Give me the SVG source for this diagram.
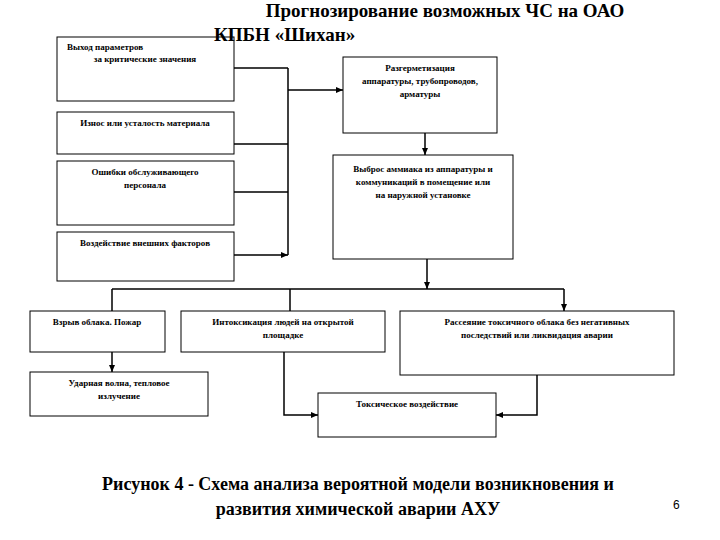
<svg xmlns="http://www.w3.org/2000/svg" width="720" height="540" viewBox="0 0 720 540">
<style>
.b{fill:#fff;stroke:#000;stroke-width:1}
.t{font-family:"Liberation Serif",serif;font-size:9px;font-weight:bold;text-anchor:middle}
.h{font-family:"Liberation Serif",serif;font-size:19px;font-weight:bold}
.c{font-family:"Liberation Serif",serif;font-size:18px;font-weight:bold;text-anchor:middle}
.l{fill:none;stroke:#000;stroke-width:1.5}
</style>
<defs><marker id="a" markerWidth="8" markerHeight="8" refX="7" refY="4" orient="auto" markerUnits="userSpaceOnUse"><path d="M0,1 L7,4 L0,7z"/></marker></defs>
<rect width="720" height="540" fill="#fff"/>
<g id="connectors">
<path class="l" d="M234,68H288M234,144H288M234,192H288M234,255H288" marker-end="url(#a)"/>
<path class="l" d="M288,68V255"/>
<path class="l" d="M288,90H343" marker-end="url(#a)"/>
<path class="l" d="M425,133V155" marker-end="url(#a)"/>
<path class="l" d="M427,259V289" marker-end="url(#a)"/>
<path class="l" d="M112,289H564"/>
<path class="l" d="M112,289V311M290,289V311M564,289V311" marker-end="url(#a)"/>
<path class="l" d="M112,352V372" marker-end="url(#a)"/>
<path class="l" d="M284,352V415H318" marker-end="url(#a)"/>
<path class="l" d="M537,375V415H496" marker-end="url(#a)"/>
</g>
<g id="n1"><rect class="b" x="57" y="37" width="177" height="64"/><text class="t" x="105" y="50">Выход параметров</text><text class="t" x="145" y="62">за критические значения</text></g>
<g id="n2"><rect class="b" x="57" y="112" width="177" height="42"/><text class="t" x="145" y="126">Износ или усталость материала</text></g>
<g id="n3"><rect class="b" x="57" y="161" width="177" height="64"/><text class="t" x="145" y="175">Ошибки обслуживающего</text><text class="t" x="145" y="188">персонала</text></g>
<g id="n4"><rect class="b" x="57" y="232" width="177" height="49"/><text class="t" x="145" y="246">Воздействие внешних факторов</text></g>
<g id="r1"><rect class="b" x="343" y="57" width="154" height="76"/><text class="t" x="420" y="71">Разгерметизация</text><text class="t" x="420" y="84">аппаратуры, трубопроводов,</text><text class="t" x="420" y="97">арматуры</text></g>
<g id="r2"><rect class="b" x="333" y="155" width="180" height="104"/><text class="t" x="423" y="172">Выброс аммиака из аппаратуры и</text><text class="t" x="423" y="185">коммуникаций в помещение или</text><text class="t" x="423" y="198">на наружной установке</text></g>
<g id="a1"><rect class="b" x="30" y="311" width="135" height="41"/><text class="t" x="97" y="325">Взрыв облака. Пожар</text></g>
<g id="a2"><rect class="b" x="181" y="311" width="204" height="41"/><text class="t" x="283" y="325">Интоксикация людей на открытой</text><text class="t" x="283" y="338">площадке</text></g>
<g id="a3"><rect class="b" x="400" y="311" width="274" height="64"/><text class="t" x="537" y="325">Рассеяние токсичного облака без негативных</text><text class="t" x="537" y="338">последствий или ликвидация аварии</text></g>
<g id="d1"><rect class="b" x="30" y="372" width="178" height="44"/><text class="t" x="119" y="386">Ударная волна, тепловое</text><text class="t" x="119" y="399">излучение</text></g>
<g id="e1"><rect class="b" x="318" y="393" width="178" height="44"/><text class="t" x="407" y="407">Токсическое воздействие</text></g>
<text class="h" x="445" y="17" text-anchor="middle">Прогнозирование возможных ЧС на ОАО</text>
<text class="h" x="214" y="41">КПБН «Шихан»</text>
<text class="c" x="358" y="490">Рисунок 4 - Схема анализа вероятной модели возникновения и</text>
<text class="c" x="358" y="515">развития химической аварии АХУ</text>
<text x="673" y="509" font-family="Liberation Sans,sans-serif" font-size="12">6</text>
</svg>
